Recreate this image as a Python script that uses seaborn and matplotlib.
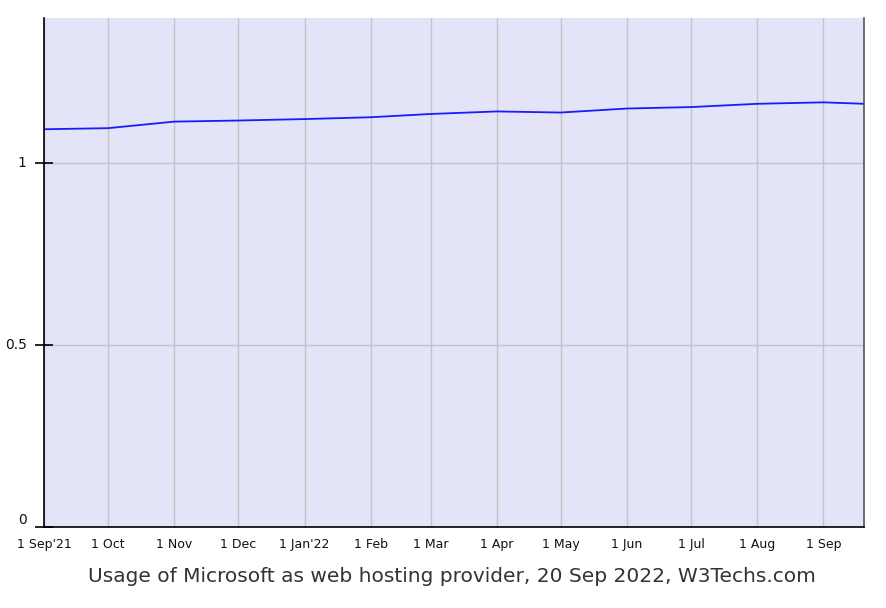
import pandas as pd
import seaborn as sns
from matplotlib import pyplot as plt

# usage share (%)
dates = ['2021-09-01', '2021-10-01', '2021-11-01', '2021-12-01', '2022-01-01',
         '2022-02-01', '2022-03-01', '2022-04-01', '2022-05-01', '2022-06-01',
         '2022-07-01', '2022-08-01', '2022-09-01', '2022-09-20']
usage = [1.094, 1.097, 1.115, 1.118, 1.122, 1.127, 1.136, 1.143, 1.140,
         1.151, 1.155, 1.164, 1.168, 1.164]

tick_dates = ['2021-09-01', '2021-10-01', '2021-11-01', '2021-12-01', '2022-01-01',
              '2022-02-01', '2022-03-01', '2022-04-01', '2022-05-01', '2022-06-01',
              '2022-07-01', '2022-08-01', '2022-09-01']
tick_labels = ["1 Sep'21", '1 Oct', '1 Nov', '1 Dec', "1 Jan'22", '1 Feb', '1 Mar',
               '1 Apr', '1 May', '1 Jun', '1 Jul', '1 Aug', '1 Sep']
y_ticks = [0, 0.5, 1]
y_labels = ['0', '0.5', '1']

df = pd.DataFrame({'date': pd.to_datetime(dates), 'usage': usage})

sns.set_style('white')
fig = plt.figure(figsize=(8.87, 6.08), dpi=100)
ax = fig.add_axes([44 / 887, 1 - 527 / 608, 820 / 887, 509 / 608])
ax.set_facecolor('#e4e4f8')

sns.lineplot(data=df, x='date', y='usage', ax=ax, color='#1a1aff', lw=1.3)

ax.set_xlim(pd.Timestamp('2021-09-01'), pd.Timestamp('2022-09-20'))
ax.set_ylim(0, 1.4)
ax.set_xticks(pd.to_datetime(tick_dates))
ax.set_xticklabels(tick_labels, fontsize=9, color='#111111')
ax.set_yticks(y_ticks)
ax.set_yticklabels(y_labels, fontsize=10, color='#111111')
ax.grid(True, color='#c4c4c4', lw=1)
ax.set_axisbelow(True)

ax.tick_params(axis='x', bottom=False, length=0, pad=8)
ax.tick_params(axis='y', left=True, length=13, direction='inout', width=1.2,
               color='black', pad=6)
for lab in ax.get_yticklabels():
    lab.set_verticalalignment('center')
ax.get_yticklabels()[0].set_verticalalignment('bottom')

ax.spines['top'].set_visible(False)
ax.spines['left'].set_color('black')
ax.spines['bottom'].set_color('black')
ax.spines['right'].set_color('#555555')
for s in ['left', 'bottom', 'right']:
    ax.spines[s].set_linewidth(1.2)
    ax.spines[s].set_visible(True)

ax.set_xlabel('')
ax.set_ylabel('')
fig.text(452 / 887, 1 - 576 / 608, 'Usage of Microsoft as web hosting provider, 20 Sep 2022, W3Techs.com',
         ha='center', va='center', fontsize=14.5, color='#333333')

fig.savefig('out.png', dpi=100, facecolor='white')
